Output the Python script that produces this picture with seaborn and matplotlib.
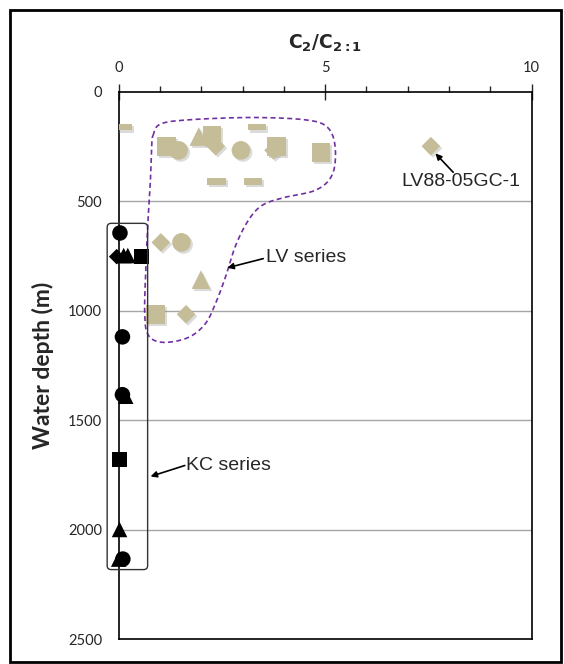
import numpy as np
import pandas as pd
import seaborn as sns
import matplotlib.pyplot as plt
from matplotlib.patches import FancyBboxPatch, Rectangle
from matplotlib.path import Path
from matplotlib.ticker import MultipleLocator
import matplotlib.patheffects as pe

sns.set_style('white')
plt.rcParams['font.family'] = ['Lato', 'DejaVu Sans']
plt.rcParams['mathtext.fontset'] = 'dejavusans'

# LV series (tan markers)
lv_ratio = [0.1, 1.15, 1.45, 1.94, 2.26, 2.35, 3.35, 2.96, 3.75, 3.82, 4.9, 2.37, 3.25, 7.56,
            1.02, 1.52, 1.99, 0.89, 1.63]
lv_depth = [162, 249, 268, 205, 201, 249, 162, 268, 268, 249, 278, 410, 410, 249,
            688, 688, 858, 1016, 1016]
lv_shape = ['dash', 'square', 'circle', 'triangle', 'square', 'diamond', 'dash', 'circle', 'diamond', 'square',
            'square', 'dash', 'dash', 'diamond',
            'diamond', 'circle', 'triangle', 'square', 'diamond']

# KC series (black markers)
kc_ratio = [0.03, -0.05, 0.12, 0.22, 0.55, 0.09, 0.09, 0.17, 0.02, 0.02, 0.0, 0.1]
kc_depth = [645, 753, 748, 748, 753, 1119, 1383, 1390, 1679, 1998, 2133, 2133]
kc_shape = ['circle', 'diamond', 'triangle', 'triangle', 'square', 'circle', 'circle', 'triangle',
            'square', 'triangle', 'triangle', 'circle']

lv = pd.DataFrame({'ratio': lv_ratio, 'depth': lv_depth, 'shape': lv_shape, 'series': 'LV'})
kc = pd.DataFrame({'ratio': kc_ratio, 'depth': kc_depth, 'shape': kc_shape, 'series': 'KC'})

dash = Path([(-1, -0.36), (1, -0.36), (1, 0.36), (-1, 0.36), (-1, -0.36)], closed=True)
diamond = Path([(0, -1), (1, 0), (0, 1), (-1, 0), (0, -1)], closed=True)
markers = {'square': 's', 'circle': 'o', 'triangle': '^', 'diamond': diamond, 'dash': dash}

fig = plt.figure(figsize=(5.64, 6.64), dpi=100)
ax = fig.add_axes([0.2105, 0.0369, 0.7321, 0.8251])

shadow = [pe.SimplePatchShadow(offset=(1.5, -1.5), shadow_rgbFace='#888888', alpha=0.3), pe.Normal()]
sns.scatterplot(data=lv, x='ratio', y='depth', style='shape', markers=markers, color='#c4bd97',
                s=180, edgecolor='none', legend=False, ax=ax, zorder=3, path_effects=shadow)
sns.scatterplot(data=kc, x='ratio', y='depth', style='shape', markers=markers, color='black',
                s=125, edgecolor='none', legend=False, ax=ax, zorder=4, clip_on=False)

ax.set_xlim(0, 10)
ax.set_ylim(2500, 0)
ax.xaxis.tick_top()
ax.xaxis.set_label_position('top')
ax.xaxis.set_major_locator(MultipleLocator(5))
ax.xaxis.set_minor_locator(MultipleLocator(1))
ax.yaxis.set_major_locator(MultipleLocator(500))
ax.yaxis.set_minor_locator(MultipleLocator(100))
ax.tick_params(axis='x', which='major', direction='inout', length=12, width=1, labelsize=10.5, pad=6)
ax.tick_params(axis='x', which='minor', direction='out', length=4, width=1)
ax.tick_params(axis='y', which='major', direction='inout', length=12, width=1, labelsize=10.5, pad=6)
ax.tick_params(axis='y', which='minor', direction='out', length=4, width=1)
for s in ax.spines.values():
    s.set_color('black')
    s.set_linewidth(1.2)

for d in [500, 1000, 1500, 2000]:
    ax.axhline(d, color='#a6a6a6', lw=1, zorder=1)

ax.set_xlabel(r'$\mathbf{C_2/C_{2:1}}$', fontsize=13.5, labelpad=9)
ax.set_ylabel('Water depth (m)', fontsize=16.5, fontweight='bold', labelpad=10)

# LV outline (dashed)
outline = np.array([
    (0.83, 201), (1.00, 149), (1.66, 129), (3.22, 118), (4.53, 129), (5.05, 162), (5.24, 249),
    (5.18, 375), (4.79, 448), (4.01, 483), (3.48, 518), (3.14, 587), (2.83, 703), (2.60, 838),
    (2.35, 964), (2.09, 1061), (1.66, 1124), (1.05, 1144), (0.71, 1109), (0.63, 1012),
    (0.65, 838), (0.71, 587), (0.77, 394), (0.80, 240)])
n = len(outline)
curve = []
for i in range(n):
    p0, p1, p2, p3 = outline[i - 1], outline[i], outline[(i + 1) % n], outline[(i + 2) % n]
    for t in np.linspace(0, 1, 12, endpoint=False):
        curve.append(0.5 * (2 * p1 + (-p0 + p2) * t + (2 * p0 - 5 * p1 + 4 * p2 - p3) * t ** 2
                            + (-p0 + 3 * p1 - 3 * p2 + p3) * t ** 3))
curve.append(curve[0])
curve = np.array(curve)
ax.plot(curve[:, 0], curve[:, 1], color='#7030a0', lw=1.2, ls=(0, (3, 2)), zorder=2)

# KC box
kc_box = FancyBboxPatch((-0.28, 601), 0.98, 1580, boxstyle='round,pad=0,rounding_size=0.1',
                        mutation_aspect=180, fill=False, ec='#333333', lw=1, clip_on=False, zorder=5)
ax.add_patch(kc_box)

ann = dict(fontsize=14, family=['Liberation Sans', 'DejaVu Sans'])
arrow = dict(arrowstyle='-|>', color='black', lw=1.2, mutation_scale=9, shrinkA=0, shrinkB=0)
ax.text(8.28, 410, 'LV88-05GC-1', ha='center', va='center', **ann)
ax.annotate('', xy=(7.67, 282), xytext=(8.1, 368), arrowprops=arrow)
ax.text(3.57, 757, 'LV series', ha='left', va='center', **ann)
ax.annotate('', xy=(2.63, 804), xytext=(3.5, 762), arrowprops=arrow)
ax.text(1.64, 1704, 'KC series', ha='left', va='center', **ann)
ax.annotate('', xy=(0.77, 1756), xytext=(1.6, 1706), arrowprops=arrow)

fig.patches.append(Rectangle((10 / 564, 2 / 664), 551 / 564, 652 / 664, transform=fig.transFigure,
                             fill=False, ec='black', lw=2))

plt.savefig('out.png', dpi=100)
